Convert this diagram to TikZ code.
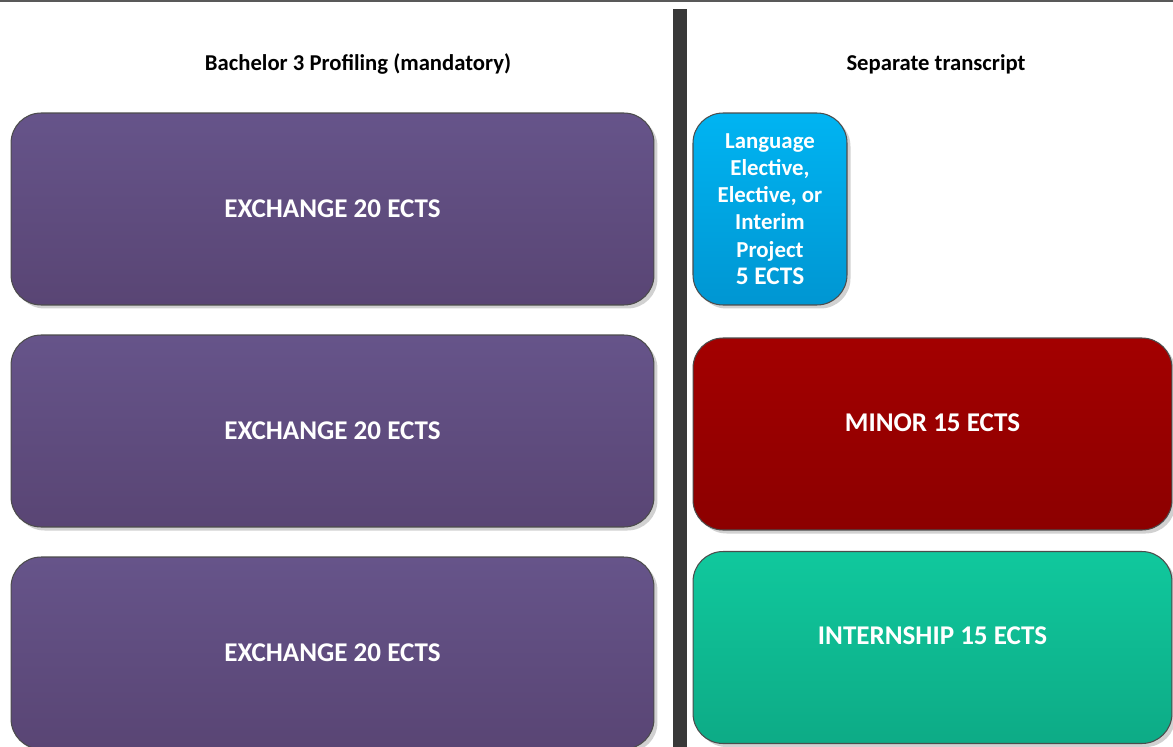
\documentclass[tikz,border=0pt]{standalone}
\usepackage{fontspec}
\setmainfont{Carlito}
\definecolor{exchtop}{HTML}{66548A}
\definecolor{exchbot}{HTML}{594574}
\definecolor{langtop}{HTML}{00B4F2}
\definecolor{langbot}{HTML}{0096D2}
\definecolor{minortop}{HTML}{A30000}
\definecolor{minorbot}{HTML}{8C0000}
\definecolor{interntop}{HTML}{10C89D}
\definecolor{internbot}{HTML}{0DAB86}
\usetikzlibrary{shadows, positioning}

\begin{document}
\begin{tikzpicture}[x=0.02cm, y=-0.02cm,
	every node/.append style={align=center, font=\bfseries},
	block/.style={draw=black!70, line width=0.6pt, rounded corners=0.6cm, text=white,
		minimum height=3.84cm, inner sep=2pt,
		drop shadow={shadow xshift=2pt, shadow yshift=-2pt, fill=black, opacity=0.18}},
	exchange/.style={block, top color=exchtop, bottom color=exchbot, minimum width=12.86cm, font=\bfseries\fontsize{15.4}{18}\selectfont},
	wide/.style={block, minimum width=9.58cm, text depth=0.46cm, font=\bfseries\fontsize{15.4}{18}\selectfont},
	header/.style={font=\bfseries\fontsize{12.9}{15}\selectfont}]
	\useasboundingbox (0,0) rectangle (1173,747);
	\draw[black!65, line width=1.2pt] (0,1) -- (1173,1);
	\draw[black!78, line width=0.28cm] (680,9) -- (680,750);
	\node[header] (left) at (358,64) {Bachelor 3 Profiling (mandatory)};
	\node[header] (right) at (936,64) {Separate transcript};
	\foreach \y/\n in {209/1, 431/2, 653/3}
		\node[exchange] (ex\n) at (332.5,\y) {EXCHANGE 20 ECTS};
	\node[block, top color=langtop, bottom color=langbot, minimum width=3.08cm,
		font=\bfseries\fontsize{13}{15.5}\selectfont] (lang) at (770,209)
		{Language\\Elective,\\Elective, or\\Interim\\Project\\{\fontsize{14.4}{15.5}\selectfont 5 ECTS}};
	\node[wide, top color=minortop, bottom color=minorbot] (minor) at (932.5,434) {MINOR 15 ECTS};
	\node[wide, top color=interntop, bottom color=internbot] (intern) at (932.5,647.5) {INTERNSHIP 15 ECTS};
\end{tikzpicture}
\end{document}
